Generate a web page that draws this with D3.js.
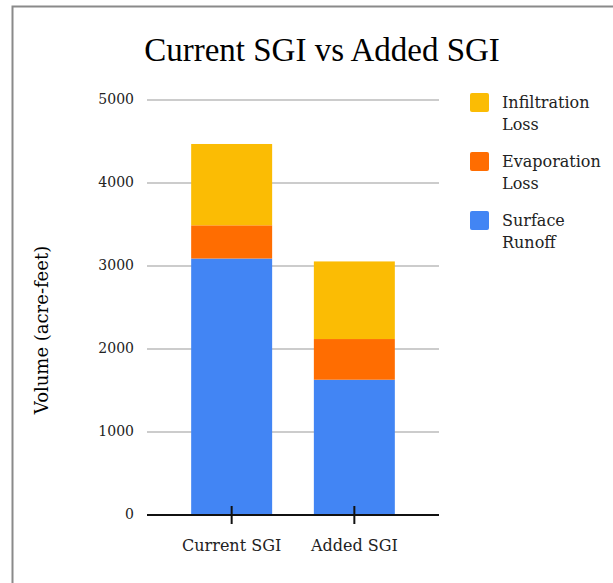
<!DOCTYPE html>
<html>
<head>
<meta charset="utf-8">
<script src="https://cdn.jsdelivr.net/npm/d3@7"></script>
<style>
  body { margin: 0; background: #fff; }
  text { font-family: "DejaVu Serif", Georgia, serif; fill: #222; }
  .title { font-family: Georgia, "Liberation Serif", serif; }
</style>
</head>
<body>
<svg id="chart" width="613" height="583"></svg>
<script>
// data
const categories = ["Current SGI", "Added SGI"];
const seriesNames = ["Surface Runoff", "Evaporation Loss", "Infiltration Loss"];
const surfaceRunoff = [3090, 1630];
const evaporationLoss = [400, 490];
const infiltrationLoss = [980, 935];
const yTicks = [0, 1000, 2000, 3000, 4000, 5000];

const colors = ["#4285F4", "#FF6D01", "#FBBC04"];

const svg = d3.select("#chart");
const width = +svg.attr("width");
const height = +svg.attr("height");

// frame
svg.append("path")
  .attr("d", `M12.5,${height} L12.5,6.5 L${width},6.5`)
  .attr("fill", "none")
  .attr("stroke", "#8a8a8a")
  .attr("stroke-width", 2);

const plot = { left: 147, right: 439, top: 100, bottom: 515 };

const x = d3.scaleBand()
  .domain(categories)
  .range([plot.left, plot.right])
  .paddingInner(0.34)
  .paddingOuter(0.36);

const y = d3.scaleLinear()
  .domain([0, 5000])
  .range([plot.bottom, plot.top]);

// gridlines
svg.append("g")
  .selectAll("line")
  .data(yTicks.filter(d => d > 0))
  .join("line")
  .attr("x1", plot.left)
  .attr("x2", plot.right)
  .attr("y1", d => y(d))
  .attr("y2", d => y(d))
  .attr("stroke", "#cccccc")
  .attr("stroke-width", 2);

// y tick labels
svg.append("g")
  .selectAll("text")
  .data(yTicks)
  .join("text")
  .attr("x", 134)
  .attr("y", d => y(d))
  .attr("dy", "0.32em")
  .attr("text-anchor", "end")
  .style("font-size", "14px")
  .text(d => d);

// stacked bars
const table = categories.map((c, i) => ({
  cat: c,
  "Surface Runoff": surfaceRunoff[i],
  "Evaporation Loss": evaporationLoss[i],
  "Infiltration Loss": infiltrationLoss[i]
}));
const stacked = d3.stack().keys(seriesNames)(table);

svg.append("g")
  .selectAll("g")
  .data(stacked)
  .join("g")
  .attr("fill", (d, i) => colors[i])
  .selectAll("rect")
  .data(d => d)
  .join("rect")
  .attr("x", d => x(d.data.cat))
  .attr("width", x.bandwidth())
  .attr("y", d => y(d[1]))
  .attr("height", d => y(d[0]) - y(d[1]));

// baseline + ticks
svg.append("line")
  .attr("x1", plot.left)
  .attr("x2", plot.right)
  .attr("y1", y(0))
  .attr("y2", y(0))
  .attr("stroke", "#111")
  .attr("stroke-width", 2);

svg.append("g")
  .selectAll("line")
  .data(categories)
  .join("line")
  .attr("x1", d => x(d) + x.bandwidth() / 2)
  .attr("x2", d => x(d) + x.bandwidth() / 2)
  .attr("y1", y(0) - 9)
  .attr("y2", y(0) + 9)
  .attr("stroke", "#111")
  .attr("stroke-width", 2);

svg.append("g")
  .selectAll("text")
  .data(categories)
  .join("text")
  .attr("x", d => x(d) + x.bandwidth() / 2)
  .attr("y", 551)
  .attr("text-anchor", "middle")
  .style("font-size", "16px")
  .text(d => d);

// title
svg.append("text")
  .attr("class", "title")
  .attr("x", 322)
  .attr("y", 61)
  .attr("text-anchor", "middle")
  .style("font-size", "33px")
  .style("fill", "#000")
  .text("Current SGI vs Added SGI");

// y axis title
svg.append("text")
  .attr("transform", "translate(48,330) rotate(-90)")
  .attr("text-anchor", "middle")
  .style("font-size", "18px")
  .style("fill", "#000")
  .text("Volume (acre-feet)");

// legend, top entry is last series
const legendItems = [
  { lines: ["Infiltration", "Loss"], color: colors[2] },
  { lines: ["Evaporation", "Loss"], color: colors[1] },
  { lines: ["Surface", "Runoff"], color: colors[0] }
];

const legend = svg.append("g")
  .selectAll("g")
  .data(legendItems)
  .join("g")
  .attr("transform", (d, i) => `translate(470,${93 + i * 59})`);

legend.append("rect")
  .attr("width", 19)
  .attr("height", 19)
  .attr("rx", 2)
  .attr("fill", d => d.color);

legend.append("text")
  .attr("x", 32)
  .attr("y", 15)
  .style("font-size", "16px")
  .selectAll("tspan")
  .data(d => d.lines)
  .join("tspan")
  .attr("x", 32)
  .attr("dy", (d, i) => i === 0 ? 0 : 22)
  .text(d => d);
</script>
</body>
</html>
